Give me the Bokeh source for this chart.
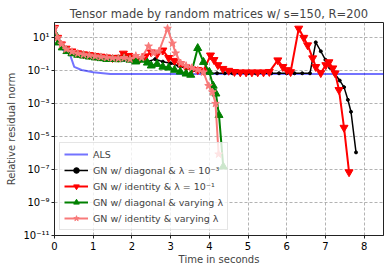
from bokeh.plotting import figure
from bokeh.models import Range1d, FixedTicker, CustomJSTickFormatter, Legend
from bokeh.embed import file_html
from bokeh.resources import INLINE

# ---- data ----
t_als = [0.0, 0.1, 0.2, 0.33, 0.4, 0.51, 0.7, 1.0, 1.44, 2.0, 3.0, 4.0, 5.0, 6.0, 7.0, 8.0, 8.6]
v_als = [30, 6, 2.0, 1.2, 0.95, 0.17, 0.11, 0.08, 0.063, 0.062, 0.062, 0.062, 0.062, 0.062, 0.062, 0.062, 0.062]

t_blk = [0.0, 0.1, 0.2, 0.3, 0.45, 0.6, 0.8, 1.0, 1.2, 1.4, 1.6, 1.8, 2.0, 2.2, 2.4, 2.6, 2.8, 3.0, 3.2, 3.4,
         3.6, 3.8, 4.0, 4.2, 4.4, 4.6, 4.8, 5.0, 5.2, 5.4, 5.6, 5.8, 6.0, 6.2, 6.4, 6.6, 6.75, 6.88, 7.0, 7.12,
         7.25, 7.37, 7.48, 7.58, 7.66, 7.79]
v_blk = [30, 8, 3.5, 2.0, 1.3, 1.0, 0.8, 0.68, 0.6, 0.55, 0.5, 0.45, 0.42, 0.4, 0.35, 0.5, 0.35, 0.28, 0.2, 0.14,
         0.11, 0.085, 0.072, 0.069, 0.069, 0.069, 0.069, 0.069, 0.069, 0.069, 0.069, 0.069, 0.069, 0.069, 0.069, 0.069, 5.2, 1.5, 0.45, 0.15,
         0.06, 0.025, 0.01, 1.7e-3, 3.2e-4, 1.1e-6]

t_red = [0.0, 0.08, 0.18, 0.3, 0.45, 0.6, 0.75, 0.9, 1.05, 1.2, 1.35, 1.5, 1.65, 1.78, 1.92, 2.05, 2.2, 2.35, 2.5, 2.65,
         2.8, 2.95, 3.1, 3.25, 3.4, 3.55, 3.7, 3.85, 4.03, 4.12, 4.22, 4.35, 4.5, 4.65, 4.8, 4.95, 5.1, 5.25, 5.4, 5.55,
         5.77, 5.9, 6.0, 6.1, 6.31, 6.44, 6.54, 6.67, 6.75, 6.88, 7.01, 7.09, 7.19, 7.25, 7.35, 7.48, 7.61]
v_red = [40, 10, 4, 2.2, 1.5, 1.15, 1.0, 0.9, 0.8, 0.72, 0.65, 0.6, 0.62, 1.1, 0.8, 0.6, 0.5, 0.75, 1.3, 1.0,
         1.7, 0.6, 0.4, 0.25, 0.16, 0.12, 0.11, 0.1, 0.85, 0.45, 0.22, 0.13, 0.1, 0.085, 0.08, 0.08, 0.08, 0.08, 0.08, 0.085,
         0.43, 0.17, 0.11, 0.083, 36, 10, 3.5, 0.57, 0.17, 0.072, 0.22, 0.33, 0.14, 0.07, 6.8e-3, 3.5e-5, 7e-8]

t_grn = [0.0, 0.1, 0.2, 0.32, 0.45, 0.6, 0.75, 0.9, 1.05, 1.2, 1.35, 1.5, 1.65, 1.8, 1.95, 2.1, 2.25, 2.4, 2.5, 2.65,
         2.8, 2.95, 3.1, 3.25, 3.4, 3.52, 3.7, 3.85, 4.0, 4.1, 4.17, 4.25, 4.36]
v_grn = [20, 5, 2.5, 1.5, 1.1, 0.9, 0.8, 0.7, 0.62, 0.56, 0.5, 0.5, 0.48, 0.55, 0.45, 0.35, 0.45, 0.3, 0.2, 0.25,
         0.17, 0.15, 0.11, 0.085, 0.065, 0.055, 2.3, 0.33, 0.083, 0.012, 4e-3, 2e-4, 1.5e-7]

t_pnk = [0.0, 0.08, 0.18, 0.3, 0.45, 0.6, 0.75, 0.9, 1.05, 1.2, 1.35, 1.5, 1.65, 1.8, 1.95, 2.1, 2.25, 2.43, 2.56, 2.7,
         2.92, 3.05, 3.13, 3.26, 3.4, 3.55, 3.7, 3.85, 3.98, 4.08, 4.16, 4.24]
v_pnk = [40, 10, 4, 2.0, 1.4, 1.1, 0.95, 0.85, 0.75, 0.68, 0.62, 0.58, 0.55, 0.6, 0.5, 0.8, 0.6, 3.0, 1.14, 1.5,
         36, 4.5, 1.14, 0.29, 0.2, 0.15, 0.11, 0.08, 0.012, 5e-3, 1e-3, 8.5e-7]

y_ticks = [1e-11, 1e-9, 1e-7, 1e-5, 1e-3, 1e-1, 1e1]
x_ticks = [0, 1, 2, 3, 4, 5, 6, 7, 8]

FONT = "DejaVu Sans"

p = figure(width=390, height=272, output_backend="svg", toolbar_location=None,
           y_axis_type="log", x_range=Range1d(0, 8.5), y_range=Range1d(1e-11, 10 ** 1.92),
           title="Tensor made by random matrices w/ s=150, R=200",
           min_border_left=54, min_border_right=7, min_border_top=22, min_border_bottom=37)

p.title.align = "center"
p.title.text_font = FONT
p.title.text_font_size = "11.5px"
p.title.text_font_style = "normal"
p.title.standoff = 4

p.outline_line_color = "#222222"
p.outline_line_width = 1

p.xaxis.ticker = FixedTicker(ticks=x_ticks, minor_ticks=[])
p.yaxis.ticker = FixedTicker(ticks=y_ticks, minor_ticks=[])
p.yaxis.formatter = CustomJSTickFormatter(code="""
const e = Math.round(Math.log10(tick));
const sup = {'-':'\u207b','0':'\u2070','1':'\u00b9','2':'\u00b2','3':'\u00b3','4':'\u2074','5':'\u2075','6':'\u2076','7':'\u2077','8':'\u2078','9':'\u2079'};
return '10' + String(e).split('').map(c => sup[c]).join('');
""")

for ax in (p.xaxis, p.yaxis):
    ax.major_label_text_font = FONT
    ax.major_label_text_font_size = "10px"
    ax.major_label_text_color = "black"
    ax.axis_label_text_font = FONT
    ax.axis_label_text_font_size = "10px"
    ax.axis_label_text_font_style = "normal"
    ax.axis_line_color = "#222222"
    ax.major_tick_line_color = "#222222"
    ax.major_tick_out = 3
    ax.major_tick_in = 0
    ax.minor_tick_line_color = None

p.xaxis.axis_label = "Time in seconds"
p.yaxis.axis_label = "Relative residual norm"
p.xaxis.axis_label_standoff = 1
p.yaxis.axis_label_standoff = 3
p.xaxis.major_label_standoff = 3
p.yaxis.major_label_standoff = 2

p.grid.grid_line_color = "#a0a0a0"
p.grid.grid_line_dash = "3 2"
p.grid.grid_line_width = 0.8

items = []
r1 = p.line(t_als, v_als, line_color="blue", line_alpha=0.55, line_width=2)
items.append(("ALS", [r1]))

r2 = p.line(t_blk, v_blk, line_color="black", line_width=1.5)
r2s = p.scatter(t_blk, v_blk, marker="circle", size=3, color="black")
items.append(("GN w/ diagonal & \u03bb = 10\u207b\u00b3", [r2, r2s]))

r3 = p.line(t_red, v_red, line_color="red", line_width=2)
r3s = p.scatter(t_red, v_red, marker="inverted_triangle", size=8, color="red")
items.append(("GN w/ identity & \u03bb = 10\u207b\u00b9", [r3, r3s]))

r4 = p.line(t_grn, v_grn, line_color="green", line_width=2)
r4s = p.scatter(t_grn, v_grn, marker="triangle", size=8, color="green")
items.append(("GN w/ diagonal & varying \u03bb", [r4, r4s]))

pink = "#f87a7a"
r5 = p.line(t_pnk, v_pnk, line_color=pink, line_width=2)
r5s = p.scatter(t_pnk, v_pnk, marker="star", size=8, color=pink)
items.append(("GN w/ identity & varying \u03bb", [r5, r5s]))

legend = Legend(items=items, location="bottom_left")
legend.label_text_font = FONT
legend.label_text_font_size = "9.5px"
legend.glyph_width = 24
legend.glyph_height = 14
legend.spacing = 2
legend.padding = 4
legend.margin = 5
legend.label_standoff = 5
legend.label_height = 14
legend.border_line_color = "#cccccc"
legend.background_fill_alpha = 0.8
p.add_layout(legend)

open("out.html", "w").write(file_html(p, INLINE))
